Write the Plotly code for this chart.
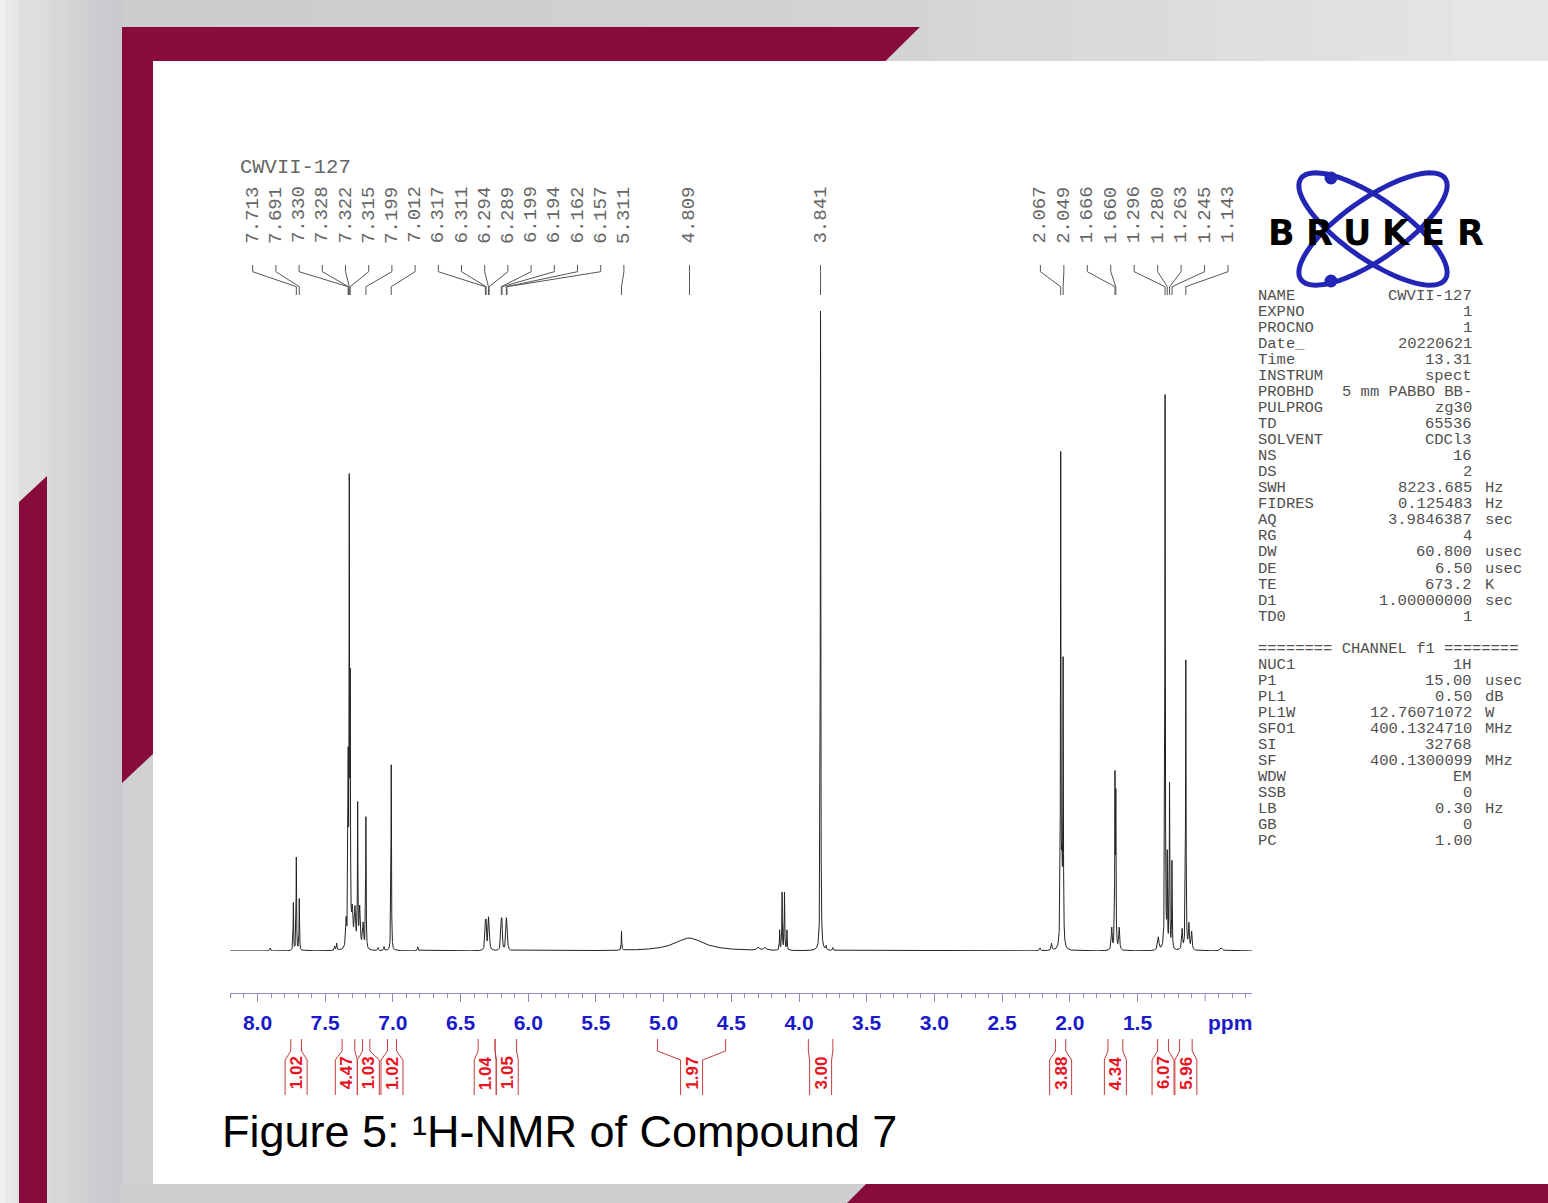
import numpy as np
import plotly.graph_objects as go

W, H = 1548, 1203

# ---------------- data ----------------
# spectrum peak table: position (ppm), height (a.u.), half width (ppm)
peak_ppm = [7.905, 7.735, 7.713, 7.691, 7.430, 7.415, 7.345, 7.330, 7.322, 7.315, 7.300, 7.280,
            7.260, 7.245, 7.220, 7.199, 7.109, 7.065, 7.012, 6.816,
            6.317, 6.311, 6.294, 6.289, 6.199, 6.194, 6.162, 6.157,
            5.311, 4.809, 4.300, 4.250, 4.143, 4.125, 4.107, 4.089, 3.841, 3.800, 3.750,
            2.220, 2.135, 2.067, 2.058, 2.049, 1.690, 1.666, 1.660, 1.635,
            1.346, 1.296, 1.280, 1.263, 1.245, 1.170, 1.143, 1.120, 1.100, 0.880]
peak_height = [3, 48, 94, 52, 4, 7, 26, 170, 445, 240, 34, 38,
               140, 40, 25, 133, 3, 4, 186, 4,
               24, 24, 24, 24, 24, 24, 24, 24,
               19, 13, 3, 3, 20, 58, 58, 20, 646, 4, 3,
               3, 7, 489, 70, 279, 22, 165, 145, 22,
               13, 554, 90, 166, 88, 20, 292, 25, 18, 3]
peak_hwhm = [0.003, 0.002, 0.002, 0.002, 0.003, 0.003, 0.004, 0.002, 0.002, 0.002, 0.006, 0.006,
             0.002, 0.005, 0.005, 0.002, 0.003, 0.003, 0.002, 0.003,
             0.0035, 0.0035, 0.0035, 0.0035, 0.0035, 0.0035, 0.0035, 0.0035,
             0.002, 0.13, 0.01, 0.01, 0.002, 0.002, 0.002, 0.002, 0.002, 0.003, 0.003,
             0.004, 0.004, 0.002, 0.004, 0.002, 0.004, 0.002, 0.002, 0.004,
             0.006, 0.002, 0.002, 0.002, 0.002, 0.004, 0.0022, 0.004, 0.004, 0.01]

# peak-pick labels
label_left = [7.713, 7.691, 7.330, 7.328, 7.322, 7.315, 7.199, 7.012, 6.317, 6.311, 6.294,
              6.289, 6.199, 6.194, 6.162, 6.157, 5.311]
label_mid = [4.809, 3.841]
label_right = [2.067, 2.049, 1.666, 1.660, 1.296, 1.280, 1.263, 1.245, 1.143]

# integrals
integral_from = [7.754, 7.375, 7.224, 7.040, 6.370, 6.245, 5.045, 3.931, 2.105, 1.718, 1.351, 1.189]
integral_to = [7.675, 7.281, 7.170, 6.973, 6.245, 6.086, 4.542, 3.750, 2.030, 1.608, 1.271, 1.096]
integral_value = ["1.02", "4.47", "1.03", "1.02", "1.04", "1.05", "1.97", "3.00", "3.88", "4.34", "6.07", "5.96"]

# axis ticks (labelled) and the unlabelled major tick
tick_vals = [8.0, 7.5, 7.0, 6.5, 6.0, 5.5, 5.0, 4.5, 4.0, 3.5, 3.0, 2.5, 2.0, 1.5]
tick_text = ["8.0", "7.5", "7.0", "6.5", "6.0", "5.5", "5.0", "4.5", "4.0", "3.5", "3.0", "2.5", "2.0", "1.5"]
extra_major_tick = [1.0]

# acquisition parameters
param_label = ["NAME", "EXPNO", "PROCNO", "Date_", "Time", "INSTRUM", "PROBHD", "PULPROG", "TD",
               "SOLVENT", "NS", "DS", "SWH", "FIDRES", "AQ", "RG", "DW", "DE", "TE", "D1", "TD0",
               "", "", "NUC1", "P1", "PL1", "PL1W", "SFO1", "SI", "SF", "WDW", "SSB", "LB", "GB", "PC"]
param_value = ["CWVII-127", "1", "1", "20220621", "13.31", "spect", "5 mm PABBO BB-", "zg30", "65536",
               "CDCl3", "16", "2", "8223.685", "0.125483", "3.9846387", "4", "60.800", "6.50", "673.2",
               "1.00000000", "1", "", "", "1H", "15.00", "0.50", "12.76071072", "400.1324710", "32768",
               "400.1300099", "EM", "0", "0.30", "0", "1.00"]
param_unit = ["", "", "", "", "", "", "", "", "", "", "", "", "Hz", "Hz", "sec", "", "usec", "usec", "K",
              "sec", "", "", "", "", "usec", "dB", "W", "MHz", "", "MHz", "", "", "Hz", "", ""]
channel_line = "======== CHANNEL f1 ========"

# ---------------- geometry helpers ----------------
X_LEFT, X_RIGHT = 230, 1252
PPM_LEFT, PPM_RIGHT = 8.203, 0.654
AXIS_Y = 993


def xp(x):
    return x / W


def yp(y):
    return 1 - y / H


def ppm_px(p):
    return X_LEFT + (PPM_LEFT - p) / (PPM_LEFT - PPM_RIGHT) * (X_RIGHT - X_LEFT)


def path(points, close=False):
    s = "M " + " L ".join(f"{xp(a):.6f} {yp(b):.6f}" for a, b in points)
    return s + (" Z" if close else "")


shapes = []
annotations = []

MAROON = "#880c3b"


def poly(points, color, layer="below"):
    shapes.append(dict(type="path", xref="paper", yref="paper", path=path(points, True),
                       fillcolor=color, line=dict(width=0), layer=layer))


def line(points, color="#555555", width=1):
    shapes.append(dict(type="path", xref="paper", yref="paper", path=path(points),
                       line=dict(color=color, width=width), layer="above"))


def text(x, y, s, size, color, family="Liberation Mono", xanchor="left", angle=0, weight="normal"):
    annotations.append(dict(x=xp(x), y=yp(y), xref="paper", yref="paper", text=s, showarrow=False,
                            xanchor=xanchor, yanchor="middle", textangle=angle,
                            font=dict(family=family, size=size, color=color, weight=weight)))


def mix(c1, c2, t):
    a = [int(c1[i:i + 2], 16) for i in (1, 3, 5)]
    b = [int(c2[i:i + 2], 16) for i in (1, 3, 5)]
    return "#" + "".join(f"{round(u + (v - u) * t):02x}" for u, v in zip(a, b))


# ---------------- background decoration ----------------
n = 24
for i in range(n):
    x0 = 122 * i / n
    poly([(x0, 0), (x0 + 122 / n + 1, 0), (x0 + 122 / n + 1, H), (x0, H)],
         mix("#f0f0ee", "#c9c9cd", (i / (n - 1)) ** 0.6))
poly([(19, 0), (47, 0), (47, 476), (19, 502)], "#dededc")
n = 30
for i in range(n):
    x0 = 122 + (W - 122) * i / n
    t = i / (n - 1)
    c = mix("#cccccf", "#d2d2d4", t * 2) if t < 0.5 else mix("#d2d2d4", "#e6e6e6", (t - 0.5) * 2)
    poly([(x0, 0), (x0 + (W - 122) / n + 1, 0), (x0 + (W - 122) / n + 1, 61), (x0, 61)], c)
poly([(120, 1184), (W, 1184), (W, H), (120, H)], "#cfcfd1")
poly([(153, 61), (W, 61), (W, 1184), (153, 1184)], "#ffffff")
poly([(122, 27), (920, 27), (885.5, 61), (153, 61), (153, 754), (122, 783)], MAROON)
poly([(19, 502), (47, 476), (47, H), (19, H)], MAROON)
poly([(866, 1184), (W, 1184), (W, H), (847, H)], MAROON)

# ---------------- spectrum ----------------
xs = np.arange(PPM_RIGHT, PPM_LEFT, 0.0004)
ys = np.zeros_like(xs)
for p, h, g in zip(peak_ppm, peak_height, peak_hwhm):
    ys += h / (1 + ((xs - p) / g) ** 2)

fig = go.Figure()
fig.add_trace(go.Scatter(x=xs, y=ys, mode="lines", line=dict(color="#222222", width=1),
                         hoverinfo="skip", showlegend=False))

# ---------------- peak labels ----------------
lab_pos = []
for i, p in enumerate(label_left):
    lab_pos.append((252.7 + i * 23.2, p))
for p in label_mid:
    lab_pos.append((ppm_px(p), p))
for i, p in enumerate(label_right):
    lab_pos.append((1040.4 + i * 23.45, p))
for lx, p in lab_pos:
    px_ = ppm_px(p)
    line([(lx, 265), (lx, 271.7), (px_, 286.7), (px_, 295)], "#555555", 1)
    text(lx, 215, f"{p:.3f}", 19, "#666666", xanchor="center", angle=-90)

text(238, 168, "CWVII-127", 20.5, "#666666")

# ---------------- integrals ----------------
half = 11.0
centers = [(ppm_px(a) + ppm_px(b)) / 2 for a, b in zip(integral_from, integral_to)]
groups = [[i] for i in range(len(centers))]
pos = centers[:]
changed = True
while changed:
    changed = False
    new = []
    for g in groups:
        if new:
            prev = new[-1]
            if pos[g[0]] - half < pos[prev[-1]] + half:
                merged = prev + g
                m = np.mean([centers[k] for k in merged])
                cnt = len(merged)
                for j, k in enumerate(merged):
                    pos[k] = m + (j - (cnt - 1) / 2) * 2 * half
                new[-1] = merged
                changed = True
                continue
        new.append(g)
    groups = new

RED_LINE = "#c83c3c"
for a, b, v, c in zip(integral_from, integral_to, integral_value, pos):
    xa, xb = ppm_px(a), ppm_px(b)
    line([(xa, 1039), (xa, 1051), (c - half, 1060), (c - half, 1095)], RED_LINE, 1)
    line([(xb, 1039), (xb, 1051), (c + half, 1060), (c + half, 1095)], RED_LINE, 1)
    text(c, 1073, v, 17, "#e6141e", family="Liberation Sans", xanchor="center", angle=-90, weight="bold")

# ---------------- axis extras ----------------
AXIS_COL = "#8c8cc8"
for t in extra_major_tick:
    line([(ppm_px(t), AXIS_Y), (ppm_px(t), AXIS_Y + 8)], AXIS_COL, 1)
text(1230, 1022, "ppm", 21, "#1a1ac8", family="Liberation Sans", xanchor="center", weight="bold")

# ---------------- title ----------------
text(220, 1131, "Figure 5: \u00b9H-NMR of Compound 7", 45, "#000000", family="Liberation Sans")

# ---------------- Bruker logo ----------------
BLUE = "#2326b5"
for ang in (35, -35):
    t = np.linspace(0, 2 * np.pi, 120)
    th = np.radians(ang)
    a_, b_ = 88, 30
    ex = 1373 + a_ * np.cos(t) * np.cos(th) - b_ * np.sin(t) * np.sin(th)
    ey = 229 + a_ * np.cos(t) * np.sin(th) + b_ * np.sin(t) * np.cos(th)
    shapes.append(dict(type="path", xref="paper", yref="paper",
                       path=path(list(zip(ex, ey)), True), line=dict(color=BLUE, width=5), layer="above"))
for cx, cy in [(1331, 178), (1331, 281)]:
    shapes.append(dict(type="circle", xref="paper", yref="paper", x0=xp(cx - 6.5), x1=xp(cx + 6.5),
                       y0=yp(cy + 6.5), y1=yp(cy - 6.5), fillcolor=BLUE, line=dict(width=0), layer="above"))
logo_letters = ["B", "R", "U", "K", "E", "R"]
logo_x = [1281, 1319, 1357, 1396, 1433, 1470]
for ch, lx in zip(logo_letters, logo_x):
    text(lx, 233, ch, 35, "#000000", family="DejaVu Sans", xanchor="center", weight="bold")

# ---------------- parameter panel ----------------
for i, (lab, val, unit) in enumerate(zip(param_label, param_value, param_unit)):
    y = 296 + 16.03 * i
    if lab:
        text(1256, y, lab, 15.5, "#505050")
    if val:
        text(1474, y, val, 15.5, "#505050", xanchor="right")
    if unit:
        text(1483, y, unit, 15.5, "#505050")
text(1256, 296 + 16.03 * 22, channel_line, 15.5, "#505050")

# ---------------- layout ----------------
minor_vals = [round(v, 1) for v in np.arange(8.2, 0.65, -0.1) if abs(v * 2 - round(v * 2)) > 1e-6]
fig.update_layout(
    width=W, height=H, autosize=False,
    margin=dict(l=0, r=0, t=0, b=0, pad=0),
    paper_bgcolor="#d0d0d2", plot_bgcolor="rgba(0,0,0,0)",
    showlegend=False,
    xaxis=dict(domain=[xp(X_LEFT), xp(X_RIGHT)], range=[PPM_LEFT, PPM_RIGHT], anchor="free",
               position=yp(AXIS_Y), showline=True, linecolor=AXIS_COL, linewidth=1,
               ticks="outside", ticklen=8, tickwidth=1, tickcolor=AXIS_COL,
               tickmode="array", tickvals=tick_vals, ticktext=[f"<b>{t}</b>" for t in tick_text],
               tickfont=dict(family="Liberation Sans", size=21, color="#1a1ac8"),
               ticklabelstandoff=3,
               minor=dict(tickvals=minor_vals, ticks="outside", ticklen=4, tickcolor=AXIS_COL, showgrid=False),
               showgrid=False, zeroline=False, fixedrange=True),
    yaxis=dict(domain=[yp(951), yp(305)], range=[0, 646], visible=False, fixedrange=True),
    shapes=shapes,
    annotations=annotations,
)

fig.write_html("out.html", config={"displayModeBar": False},
               post_script="document.body.style.margin='0px';")
